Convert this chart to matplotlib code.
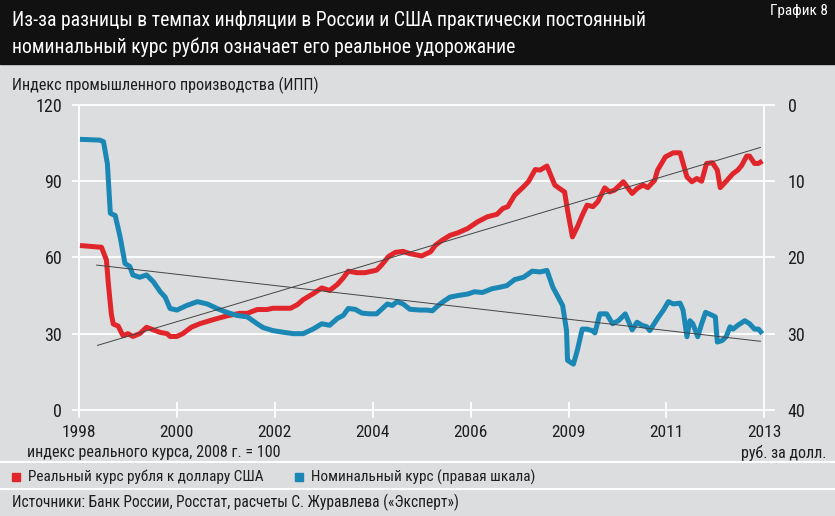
import matplotlib
matplotlib.use("Agg")
import matplotlib.pyplot as plt
from matplotlib import font_manager
from matplotlib.patches import Rectangle
from matplotlib.lines import Line2D

# --- данные (x в долях интервала между подписями оси, 0 = 1998, 7 = 2013) ---
year_labels = ["1998", "2000", "2002", "2004", "2006", "2009", "2011", "2013"]

real_x = [0.01, 0.23, 0.28, 0.30, 0.33, 0.35, 0.40, 0.45, 0.50, 0.55, 0.62, 0.69,
          0.76, 0.83, 0.90, 0.93, 1.00, 1.06, 1.15, 1.24, 1.37, 1.51, 1.64, 1.72,
          1.82, 1.92, 1.98, 2.08, 2.16, 2.23, 2.29, 2.39, 2.48, 2.56, 2.64, 2.70,
          2.75, 2.84, 2.92, 3.04, 3.09, 3.16, 3.23, 3.31, 3.38, 3.50, 3.59, 3.64,
          3.71, 3.79, 3.87, 3.97, 4.07, 4.17, 4.27, 4.33, 4.38, 4.45, 4.54, 4.59,
          4.66, 4.71, 4.78, 4.86, 4.91, 4.96, 4.99, 5.04, 5.09, 5.14, 5.19, 5.25,
          5.30, 5.37, 5.42, 5.47, 5.56, 5.65, 5.70, 5.76, 5.81, 5.88, 5.91, 5.99,
          6.07, 6.14, 6.21, 6.26, 6.31, 6.36, 6.41, 6.47, 6.52, 6.55, 6.62, 6.68,
          6.73, 6.77, 6.82, 6.85, 6.90, 6.94, 6.98]
real_idx = [64.7, 64.0, 59.0, 49.6, 37.8, 33.8, 33.0, 29.2, 30.0, 28.9, 30.0, 32.5,
            31.5, 30.5, 30.0, 28.9, 28.9, 30.0, 32.6, 34.0, 35.5, 37.0, 38.0, 38.0,
            39.5, 39.5, 40.0, 40.0, 40.0, 41.4, 43.4, 45.7, 48.0, 47.0, 49.4, 52.0,
            54.6, 54.0, 54.0, 55.0, 57.0, 60.3, 62.0, 62.4, 61.5, 60.6, 62.2, 64.8,
            66.8, 68.7, 69.7, 71.4, 74.0, 76.0, 77.0, 79.3, 80.0, 84.5, 87.8, 89.8,
            94.6, 94.4, 96.0, 88.5, 87.1, 85.8, 78.6, 68.1, 72.0, 76.6, 80.6, 80.0,
            82.0, 87.4, 85.8, 86.5, 89.8, 85.2, 87.1, 88.5, 87.5, 90.4, 94.4, 99.6,
            101.2, 101.2, 91.7, 89.8, 91.1, 90.0, 97.0, 97.3, 94.4, 87.5, 90.4, 93.0,
            94.4, 96.3, 99.9, 99.9, 97.0, 97.0, 98.0]

nom_x = [0.01, 0.21, 0.25, 0.29, 0.32, 0.37, 0.42, 0.47, 0.52, 0.55, 0.62, 0.69,
         0.76, 0.83, 0.88, 0.93, 1.00, 1.10, 1.21, 1.31, 1.41, 1.51, 1.61, 1.72,
         1.82, 1.88, 1.98, 2.08, 2.19, 2.29, 2.39, 2.48, 2.56, 2.64, 2.70, 2.75,
         2.82, 2.89, 2.97, 3.04, 3.15, 3.20, 3.25, 3.31, 3.38, 3.48, 3.55, 3.61,
         3.66, 3.72, 3.79, 3.87, 3.97, 4.04, 4.12, 4.22, 4.30, 4.37, 4.45, 4.54,
         4.63, 4.71, 4.78, 4.84, 4.94, 4.98, 4.99, 5.05, 5.09, 5.14, 5.19, 5.24,
         5.27, 5.32, 5.39, 5.45, 5.51, 5.58, 5.65, 5.70, 5.75, 5.80, 5.83, 5.91,
         5.97, 6.02, 6.07, 6.14, 6.17, 6.21, 6.24, 6.27, 6.32, 6.36, 6.40, 6.47,
         6.50, 6.52, 6.57, 6.61, 6.65, 6.68, 6.73, 6.80, 6.85, 6.90, 6.94, 6.98]
nom_rub = [4.5, 4.6, 4.8, 7.7, 14.2, 14.5, 17.3, 20.8, 21.2, 22.3, 22.6, 22.3,
           23.2, 24.5, 25.2, 26.7, 26.9, 26.3, 25.8, 26.1, 26.7, 27.2, 27.6, 27.8,
           28.7, 29.2, 29.6, 29.8, 30.0, 30.0, 29.4, 28.7, 28.9, 28.0, 27.6, 26.7,
           26.8, 27.3, 27.4, 27.4, 26.1, 26.3, 25.8, 26.1, 26.8, 26.9, 26.9, 27.0,
           26.4, 25.8, 25.2, 25.0, 24.8, 24.5, 24.6, 24.1, 23.9, 23.7, 22.9, 22.6,
           21.8, 21.9, 21.7, 23.9, 26.3, 29.6, 33.5, 34.0, 32.2, 29.4, 29.4, 29.6,
           29.9, 27.4, 27.4, 28.7, 28.3, 27.4, 29.5, 28.5, 28.9, 29.1, 29.6, 28.0,
           26.9, 25.8, 26.1, 26.0, 26.9, 30.4, 28.3, 28.7, 30.4, 28.7, 27.2, 27.6,
           27.8, 31.1, 30.9, 30.4, 29.1, 29.4, 28.9, 28.3, 28.7, 29.4, 29.4, 30.0]

# линии тренда (концы)
trend_real_x = [0.19, 6.96]
trend_real_y = [25.4, 103.3]
trend_nom_x = [0.18, 6.96]
trend_nom_y = [21.0, 31.0]

W, H = 835, 516
RED = "#e1262b"
BLUE = "#1a87b5"
BG = "#dcdddf"
TXT = "#1e1e1e"

names = {f.name for f in font_manager.fontManager.ttflist}
font = "Liberation Sans"
for cand in ["Liberation Sans Narrow", "Roboto Condensed", "Open Sans Condensed"]:
    if cand in names:
        font = cand
        break
plt.rcParams["font.family"] = [font, "DejaVu Sans"]

fig = plt.figure(figsize=(W / 100, H / 100), dpi=100, facecolor=BG)


def ftxt(x, y, s, **kw):
    kw.setdefault("va", "center")
    kw.setdefault("color", TXT)
    fig.text(x / W, 1 - y / H, s, **kw)


def hline(y, color="white", lw=1.5):
    fig.add_artist(Line2D([0, 1], [1 - y / H] * 2, color=color, lw=lw,
                          transform=fig.transFigure))


# шапка
fig.patches.append(Rectangle((0, 1 - 64 / H), 1, 64 / H, transform=fig.transFigure,
                             color="#111111", zorder=0))
ftxt(12, 20, "Из-за разницы в темпах инфляции в России и США практически постоянный",
     color="white", fontsize=14.2)
ftxt(12, 47, "номинальный курс рубля означает его реальное удорожание",
     color="white", fontsize=14.2)
ftxt(828, 11, "График 8", color="white", fontsize=11, ha="right")

# оси
ax = fig.add_axes([72 / W, 1 - 418 / H, 703 / W, (418 - 102.5) / H])
ax.set_facecolor("none")
for s in ax.spines.values():
    s.set_visible(False)
ax.set_xlim(-7 / 97.9, 696 / 97.9)
ax.set_ylim(-3.2, 121)

for v in [0, 30, 60, 90, 120]:
    ax.axhline(v, color="white", lw=1.3, zorder=1)
ax.plot([0, 0], [-3.2, 120], color="white", lw=1.3, zorder=1)
ax.plot([7, 7], [-3.2, 120], color="white", lw=1.3, zorder=1)
ax.vlines(range(1, 7), -3.2, 3, color="white", lw=1.3, zorder=1)

ax.set_xticks(range(8))
ax.set_xticklabels(year_labels)
ax.set_yticks([0, 30, 60, 90, 120])
ax.tick_params(axis="x", length=0, pad=5, labelsize=12.5, colors=TXT)
ax.tick_params(axis="y", length=0, pad=7, labelsize=13, colors=TXT)

ax.plot(real_x, real_idx, color=RED, lw=3.6, solid_joinstyle="round",
        solid_capstyle="butt", zorder=3)

ax2 = ax.twinx()
for s in ax2.spines.values():
    s.set_visible(False)
ax2.set_ylim(40 + 3.2 / 3, 40 - 121 / 3)
ax2.set_yticks([0, 10, 20, 30, 40])
ax2.tick_params(axis="y", length=0, pad=9, labelsize=13, colors=TXT)
ax2.plot(nom_x, nom_rub, color=BLUE, lw=3.6, solid_joinstyle="round",
         solid_capstyle="butt", zorder=3)
ax2.plot(trend_nom_x, trend_nom_y, color="#444444", lw=0.7, zorder=5)
ax2.plot(trend_real_x, [40 - y / 3 for y in trend_real_y],
         color="#444444", lw=0.7, zorder=5)

# подписи
ftxt(12, 85, "Индекс промышленного производства (ИПП)", fontsize=11.6)
ftxt(27, 453, "индекс реального курса, 2008 г. = 100", fontsize=11.6)
ftxt(826, 453, "руб. за долл.", fontsize=11.5, ha="right")

hline(462)
fig.patches.append(Rectangle((12 / W, 1 - 481 / H), 8 / W, 8 / H,
                             transform=fig.transFigure, color=RED))
ftxt(28, 477, "Реальный курс рубля к доллару США", fontsize=11)
fig.patches.append(Rectangle((295 / W, 1 - 481 / H), 8 / W, 8 / H,
                             transform=fig.transFigure, color=BLUE))
ftxt(311, 477, "Номинальный курс (правая шкала)", fontsize=11)
hline(489)
ftxt(12, 502, "Источники: Банк России, Росстат, расчеты С. Журавлева («Эксперт»)",
     fontsize=11.2)

fig.savefig("out.png", dpi=100, facecolor=BG)
